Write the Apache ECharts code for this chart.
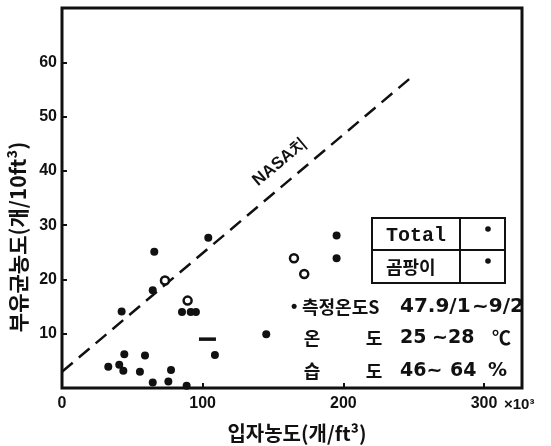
<!DOCTYPE html>
<html>
<head>
<meta charset="utf-8">
<script src="https://cdn.jsdelivr.net/npm/echarts@6/dist/echarts.min.js"></script>
<style>
html,body{margin:0;padding:0;background:#fff;}
#c{width:551px;height:446px;}
</style>
</head>
<body>
<div id="c"></div>
<script>
// ---- data ----
const xTicks = [0, 100, 200, 300];
const yTicks = [10, 20, 30, 40, 50, 60];
const totalX = [104.0, 65.6, 64.5, 42.4, 85.3, 91.5, 95.2, 108.7, 44.3, 59.0, 32.9, 40.7, 43.6, 55.4, 77.5, 64.5, 75.6, 88.6, 145.2, 195.2, 195.2];
const totalY = [27.7, 25.1, 18.0, 14.1, 14.0, 14.0, 14.0, 6.1, 6.2, 6.0, 3.9, 4.3, 3.2, 3.0, 3.3, 1.0, 1.2, 0.4, 9.9, 28.1, 23.9];
const moldX = [73.2, 89.3, 164.9, 172.2];
const moldY = [19.8, 16.1, 23.9, 21.0];
const dashX = [103.4];
const dashY = [9.0];
const nasaX = [0, 250];
const nasaY = [3.0, 57.6];

const zip = (a, b) => a.map((v, i) => [v, b[i]]);
const INK = '#111';
const KR = '"Noto Sans CJK KR", sans-serif';
const NUM = '"Liberation Sans", "DejaVu Sans", sans-serif';
const DJ = '"DejaVu Sans", sans-serif';

const chart = echarts.init(document.getElementById('c'), null, {renderer: 'canvas'});

function txt(x, y, text, size, opts) {
  opts = opts || {};
  return {
    type: 'text', x: x, y: y, rotation: opts.rotation || 0, z: 100,
    style: {
      text: text, fill: INK,
      fontSize: size, fontWeight: 'bold',
      fontFamily: opts.family || KR,
      textAlign: opts.align || 'left',
      textVerticalAlign: 'middle'
    }
  };
}

const option = {
  backgroundColor: '#fff',
  animation: false,
  grid: {left: 62, right: 29, top: 8, bottom: 58, show: true, borderColor: INK, borderWidth: 3, backgroundColor: 'transparent'},
  xAxis: {
    type: 'value', min: 0, max: 327, interval: 100,
    axisLine: {show: false},
    splitLine: {show: false},
    axisTick: {show: true, inside: true, length: 5, lineStyle: {color: INK, width: 2}},
    axisLabel: {
      margin: 8, color: INK, fontSize: 16, fontWeight: 'bold', fontFamily: NUM,
      showMaxLabel: false,
      formatter: v => xTicks.indexOf(v) >= 0 ? String(v) : ''
    }
  },
  yAxis: {
    type: 'value', min: 0, max: 70, interval: 10,
    axisLine: {show: false},
    splitLine: {show: false},
    axisTick: {show: true, inside: true, length: 5, lineStyle: {color: INK, width: 2}},
    axisLabel: {
      margin: 5, color: INK, fontSize: 16, fontWeight: 'bold', fontFamily: NUM,
      formatter: v => yTicks.indexOf(v) >= 0 ? String(v) : ''
    }
  },
  series: [
    {
      name: 'NASA치', type: 'line', data: zip(nasaX, nasaY), symbol: 'none',
      lineStyle: {color: INK, width: 2.5, type: [14, 8]}, z: 2
    },
    {
      name: 'Total', type: 'scatter', data: zip(totalX, totalY), symbol: 'circle', symbolSize: 8,
      itemStyle: {color: INK, opacity: 1}, z: 3
    },
    {
      name: '곰팡이', type: 'scatter', data: zip(moldX, moldY), symbol: 'circle', symbolSize: 8,
      itemStyle: {color: '#fff', borderColor: INK, borderWidth: 2.5, opacity: 1}, z: 3
    },
    {
      name: 'dash', type: 'scatter', data: zip(dashX, dashY), symbol: 'rect', symbolSize: [17, 3.5],
      itemStyle: {color: INK, opacity: 1}, z: 3
    }
  ],
  graphic: [
    // axis titles
    txt(18, 237, '부유균농도(개/10ft³)', 21, {align: 'center', rotation: Math.PI / 2}),
    txt(297, 433, '입자농도(개/ft³)', 20, {align: 'center'}),
    txt(504, 405, '×10³', 15, {family: NUM}),
    // NASA label
    txt(280, 162, 'NASA치', 17, {align: 'center', rotation: 0.70, family: NUM}),
    // legend table
    {type: 'rect', z: 100, shape: {x: 372, y: 218, width: 133, height: 65}, style: {fill: '#fff', stroke: INK, lineWidth: 2}},
    {type: 'line', z: 101, shape: {x1: 372, y1: 250, x2: 505, y2: 250}, style: {stroke: INK, lineWidth: 2}},
    {type: 'line', z: 101, shape: {x1: 460, y1: 218, x2: 460, y2: 283}, style: {stroke: INK, lineWidth: 2}},
    txt(386, 236, 'Total', 20, {family: '"Liberation Mono", monospace'}),
    txt(386, 267, '곰팡이', 18),
    {type: 'circle', z: 101, shape: {cx: 488, cy: 229, r: 2.8}, style: {fill: INK}},
    {type: 'circle', z: 101, shape: {cx: 488, cy: 261, r: 2.8}, style: {fill: INK}},
    // notes
    txt(291, 307, '•', 18, {family: NUM}),
    txt(302, 307, '측정온도S', 18),
    txt(400, 307, '47.9/1', 20, {family: DJ}),
    txt(472, 307, '~9/2', 20, {family: DJ}),
    txt(312, 338, '온', 18, {align: 'center'}),
    txt(374, 338, '도', 18, {align: 'center'}),
    txt(400, 338, '25', 19, {family: DJ}),
    txt(432, 338, '~28', 19, {family: DJ}),
    txt(492, 338, '℃', 19),
    txt(312, 371, '습', 18, {align: 'center'}),
    txt(374, 371, '도', 18, {align: 'center'}),
    txt(400, 371, '46~', 19, {family: DJ}),
    txt(450, 371, '64', 19, {family: DJ}),
    txt(488, 371, '%', 19, {family: DJ})
  ]
};
chart.setOption(option);
</script>
</body>
</html>
